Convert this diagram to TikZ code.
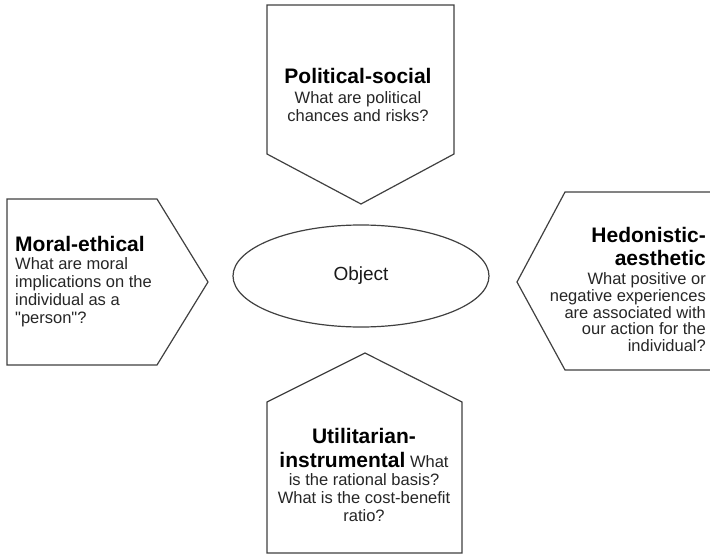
\documentclass[tikz,border=0pt]{standalone}
\usepackage{fontspec}
\setmainfont{Liberation Sans}[Ligatures=TeXOff]
\usetikzlibrary{shapes.geometric}

\tikzset{
  panel/.style={draw=black!75, line width=1.2pt, fill=white, line join=miter},
  bodytext/.style={inner sep=0pt, text=black!85, font=\fontsize{16.5}{18}\selectfont},
}
\newcommand{\hd}[1]{{\fontsize{21}{24}\selectfont\bfseries\color{black}#1}}

\begin{document}
\begin{tikzpicture}[x=1pt,y=-1pt]
  \useasboundingbox (0,0) rectangle (710,554);

  % the four arrow-shaped panels
  \draw[panel] (267,5) -- (454,5) -- (454,154) -- (361,204) -- (267,154) -- cycle;
  \draw[panel] (7,199) -- (157,199) -- (208,282) -- (157,365) -- (7,365) -- cycle;
  \draw[panel] (720,192) -- (565,192) -- (517,282) -- (565,370) -- (720,370) -- cycle;
  \draw[panel] (267,553) -- (267,402) -- (365,353) -- (462,402) -- (462,553) -- cycle;

  % centre
  \node[ellipse, draw=black!75, line width=1.2pt, minimum width=256pt, minimum height=102pt,
        inner sep=0pt, font=\fontsize{19}{22}\selectfont, text=black!90] (obj) at (361,276) {Object};

  % panel texts
  \node[bodytext, align=center, anchor=north] (pol) at (358,68)
    {\hd{Political-social}\\[2pt] What are political\\ chances and risks?};

  \node[bodytext, align=left, anchor=north west] (mor) at (15,236)
    {\hd{Moral-ethical}\\ What are moral\\ implications on the\\ individual as a\\ "person"?};

  \node[bodytext, align=right, anchor=north east, font=\fontsize{16.5}{16.7}\selectfont] (hed) at (706,227)
    {\hd{Hedonistic-}\\[6pt] \hd{aesthetic}\\[3pt] What positive or\\ negative experiences\\ are associated with\\ our action for the\\ individual?};

  \node[bodytext, align=center, anchor=north] (uti) at (364,428)
    {\hd{Utilitarian-}\\[6pt] \hd{instrumental} What\\ is the rational basis?\\ What is the cost-benefit\\ ratio?};
\end{tikzpicture}
\end{document}
